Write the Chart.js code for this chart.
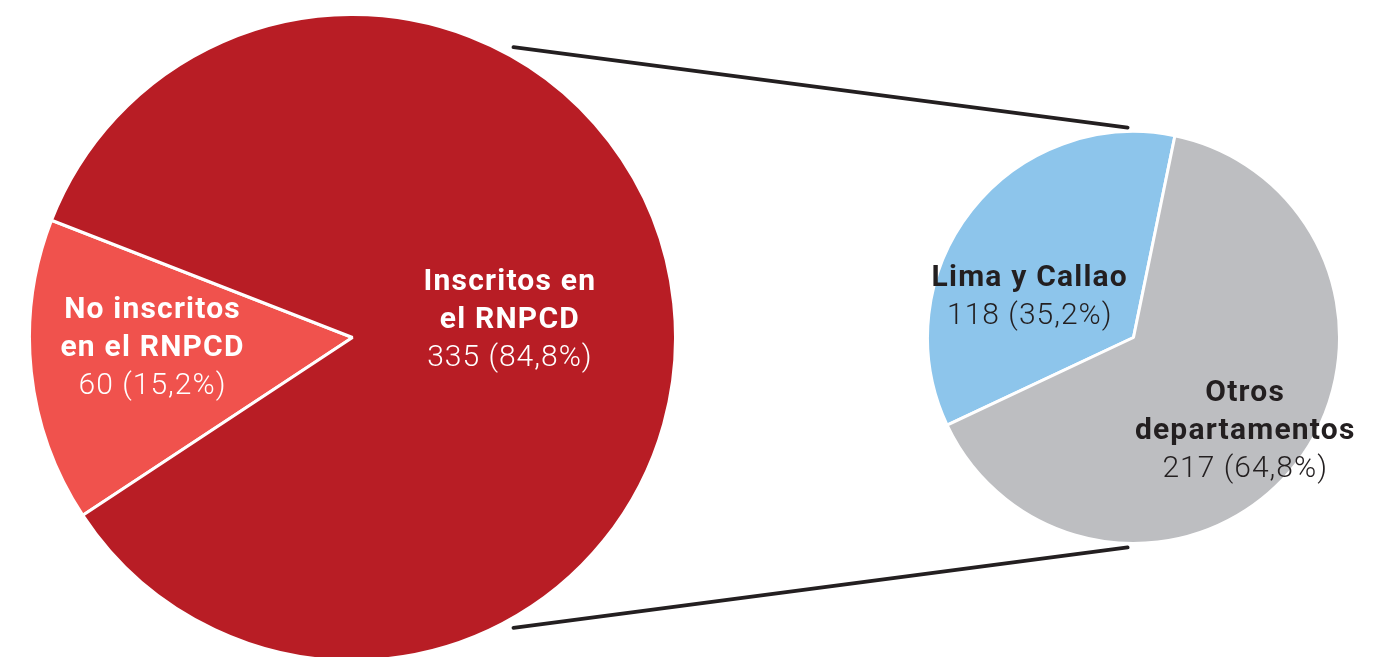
<!DOCTYPE html>
<html>
<head>
<meta charset="utf-8">
<script src="https://cdn.jsdelivr.net/npm/chart.js@4.4.1/dist/chart.umd.min.js"></script>
<style>
  html, body { margin: 0; padding: 0; background: #fff; }
  #stage { position: relative; width: 1389px; height: 657px; overflow: hidden; }
  .pie { position: absolute; }
  #bigWrap { left: 28px; top: 13px; width: 649px; height: 649px; }
  #smallWrap { left: 926px; top: 130px; width: 455px; height: 415px; }
  #lines { position: absolute; left: 0; top: 0; pointer-events: none; }
</style>
</head>
<body>
<div id="stage">
  <div class="pie" id="bigWrap"><canvas id="chartBig"></canvas></div>
  <div class="pie" id="smallWrap"><canvas id="chartSmall"></canvas></div>
  <canvas id="lines" width="1389" height="657"></canvas>
</div>
<script>
// ── Datos ──────────────────────────────────────────
const bigLabels   = [['No inscritos', 'en el RNPCD'], ['Inscritos en', 'el RNPCD']];
const bigValues   = [60, 335];
const bigPct      = ['15,2%', '84,8%'];

const smallLabels = [['Lima y Callao'], ['Otros', 'departamentos']];
const smallValues = [118, 217];
const smallPct    = ['35,2%', '64,8%'];

// ── Estilo ─────────────────────────────────────────
const bigColors   = ['#F0524D', '#B81D25'];
const smallColors = ['#8DC5EB', '#BDBEC1'];
const bigText     = ['#ffffff', '#ffffff'];
const smallText   = ['#231F20', '#231F20'];
// posición de etiquetas: fracción del radio y desvío angular (grados)
const bigLabelPos   = [{ f: 0.62, da: 3 }, { f: 0.49, da: 0 }];
const smallLabelPos = [{ f: 0.54, da: -17 }, { f: 0.71, da: 2 }];

const FONT = 'Roboto, "Open Sans", sans-serif';

function labelPlugin(lines, values, pct, colors, pos) {
  return {
    id: 'sliceLabels',
    afterDraw(chart) {
      const c = chart.ctx;
      const arcs = chart.getDatasetMeta(0).data;
      c.save();
      c.textAlign = 'center';
      c.textBaseline = 'middle';
      arcs.forEach((arc, i) => {
        const { x, y, startAngle, endAngle, outerRadius } = arc.getProps(['x', 'y', 'startAngle', 'endAngle', 'outerRadius'], true);
        const mid = (startAngle + endAngle) / 2 + pos[i].da * Math.PI / 180;
        const r = outerRadius * pos[i].f;
        const cx = x + Math.cos(mid) * r;
        const cy = y + Math.sin(mid) * r;
        const all = lines[i].length + 1;
        const lh = 38;
        let ty = cy - (all - 1) * lh / 2;
        c.fillStyle = colors[i];
        c.font = `bold 30px ${FONT}`;
        c.letterSpacing = '1.2px';
        lines[i].forEach(t => { c.fillText(t, cx, ty); ty += lh; });
        c.font = `300 30px ${FONT}`;
        c.letterSpacing = '1px';
        c.fillText(`${values[i]} (${pct[i]})`, cx, ty);
      });
      c.restore();
    }
  };
}

function makePie(id, labels, values, colors, rotation, padding, plugin) {
  return new Chart(document.getElementById(id), {
    type: 'pie',
    data: {
      labels: labels.map(l => l.join(' ')),
      datasets: [{
        data: values,
        backgroundColor: colors,
        borderColor: '#ffffff',
        borderWidth: 3,
        hoverOffset: 0
      }]
    },
    options: {
      responsive: true, maintainAspectRatio: false,
      animation: false,
      rotation: rotation,
      layout: { padding: padding },
      plugins: { legend: { display: false }, tooltip: { enabled: false } }
    },
    plugins: [plugin]
  });
}

const bigChart = makePie('chartBig', bigLabels, bigValues, bigColors, 236.6, 0,
  labelPlugin(bigLabels, bigValues, bigPct, bigText, bigLabelPos));
const smallChart = makePie('chartSmall', smallLabels, smallValues, smallColors, 244.8, { right: 40 },
  labelPlugin(smallLabels, smallValues, smallPct, smallText, smallLabelPos));

// ── Líneas de conexión ─────────────────────────────
function drawConnectors() {
  const cv = document.getElementById('lines');
  const c = cv.getContext('2d');
  c.clearRect(0, 0, cv.width, cv.height);
  const stage = document.getElementById('stage').getBoundingClientRect();
  const bRect = bigChart.canvas.getBoundingClientRect();
  const sRect = smallChart.canvas.getBoundingClientRect();
  const b = bigChart.getDatasetMeta(0).data[0];
  const s = smallChart.getDatasetMeta(0).data[0];
  const bx = bRect.left - stage.left + b.x, by = bRect.top - stage.top + b.y;
  const sx = sRect.left - stage.left + s.x, sy = sRect.top - stage.top + s.y;
  const br = b.outerRadius + 9, sr = s.outerRadius + 4;
  c.strokeStyle = '#231F20';
  c.lineWidth = 3.8;
  c.lineCap = 'round';
  [-1, 1].forEach(sign => {
    const a1 = sign * 61 * Math.PI / 180;
    const a2 = sign * 91.6 * Math.PI / 180;
    c.beginPath();
    c.moveTo(bx + Math.cos(a1) * br, by + Math.sin(a1) * br);
    c.lineTo(sx + Math.cos(a2) * sr, sy + Math.sin(a2) * sr);
    c.stroke();
  });
}
drawConnectors();
</script>
</body>
</html>
